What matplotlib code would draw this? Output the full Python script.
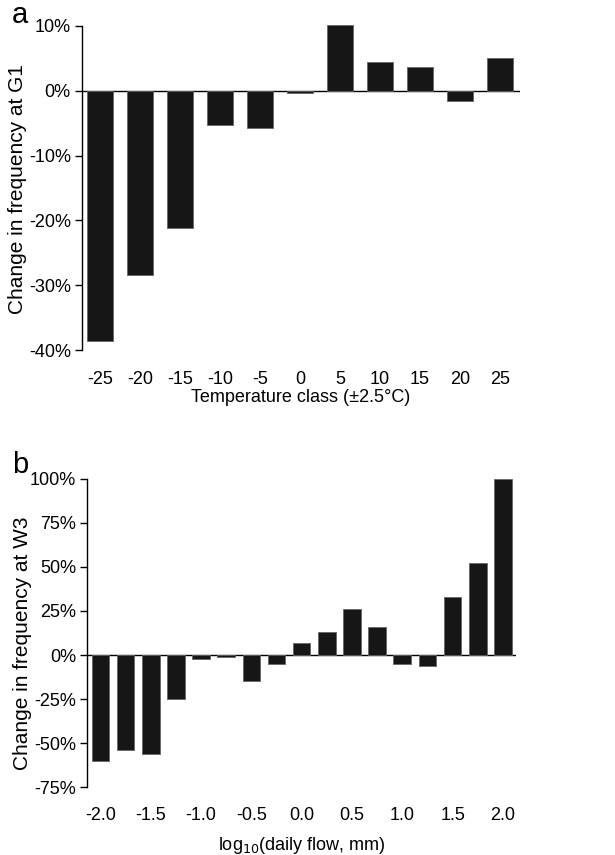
import matplotlib
matplotlib.use("Agg")
import matplotlib.pyplot as plt
import numpy as np

plt.rcParams['font.family'] = ['Liberation Sans', 'DejaVu Sans']

# panel a: temperature classes at G1
temp_classes = [-25, -20, -15, -10, -5, 0, 5, 10, 15, 20, 25]
temp_change = [-38.6, -28.4, -21.1, -5.2, -5.7, -0.3, 10.1, 4.4, 3.7, -1.5, 5.0]
temp_yticks = [-40, -30, -20, -10, 0, 10]

# panel b: log10 daily flow at W3
flow_classes = [-2.0, -1.75, -1.5, -1.25, -1.0, -0.75, -0.5, -0.25, 0.0,
                0.25, 0.5, 0.75, 1.0, 1.25, 1.5, 1.75, 2.0]
flow_change = [-60, -54, -56, -25, -2, -1, -15, -5, 7, 13, 26, 16, -5, -6, 33, 52, 100]
flow_yticks = [-75, -50, -25, 0, 25, 50, 75, 100]
flow_xticks = [-2.0, -1.5, -1.0, -0.5, 0.0, 0.5, 1.0, 1.5, 2.0]

bar_color = '#161616'
edge_color = '#666666'

fig = plt.figure(figsize=(6.15, 8.55), dpi=100)


def style_axis(ax, yticks, ylims, xlims, pad):
    ax.set_xlim(*xlims)
    ax.set_ylim(*ylims)
    for s in ['top', 'right', 'bottom']:
        ax.spines[s].set_visible(False)
    ax.spines['left'].set_bounds(ylims[0], ylims[1])
    ax.spines['left'].set_linewidth(1.0)
    ax.set_yticks(yticks)
    ax.set_yticklabels([f"{t}%" for t in yticks])
    ax.tick_params(axis='y', direction='out', length=5, width=1, labelsize=13, pad=3)
    ax.tick_params(axis='x', length=0, labelsize=13, pad=pad)
    ax.axhline(0, color='black', lw=1.0, zorder=1)


# top
ax1 = fig.add_axes([0.1333, 0.5906, 0.7122, 0.3790])
ax1.bar(temp_classes, temp_change, width=3.35, color=bar_color,
        edgecolor=edge_color, linewidth=0.6, zorder=2, clip_on=False)
style_axis(ax1, temp_yticks, (-40, 10), (-27.25, 27.5), 15)
ax1.set_xticks(temp_classes)
ax1.set_xticklabels([str(t) for t in temp_classes])
ax1.set_xlabel("Temperature class (±2.5°C)", fontsize=13, labelpad=1)
ax1.set_ylabel("Change in frequency at G1", fontsize=15)
ax1.yaxis.set_label_coords(-0.126, 0.497)

# bottom
ax2 = fig.add_axes([0.1420, 0.0792, 0.6970, 0.3609])
ax2.bar(flow_classes, flow_change, width=0.175, color=bar_color,
        edgecolor=edge_color, linewidth=0.6, zorder=2, clip_on=False)
style_axis(ax2, flow_yticks, (-75, 100), (-2.13, 2.13), 14)
ax2.set_xticks(flow_xticks)
ax2.set_xticklabels([f"{t:.1f}" for t in flow_xticks])
ax2.set_xlabel("log$_{10}$(daily flow, mm)", fontsize=13, labelpad=8)
ax2.set_ylabel("Change in frequency at W3", fontsize=15)
ax2.yaxis.set_label_coords(-0.129, 0.466)

fig.text(20 / 615, 1 - 15 / 855, "a", fontsize=21, ha='center', va='center')
fig.text(20 / 615, 1 - 465 / 855, "b", fontsize=21, ha='center', va='center')

fig.savefig("out.png", dpi=100)
